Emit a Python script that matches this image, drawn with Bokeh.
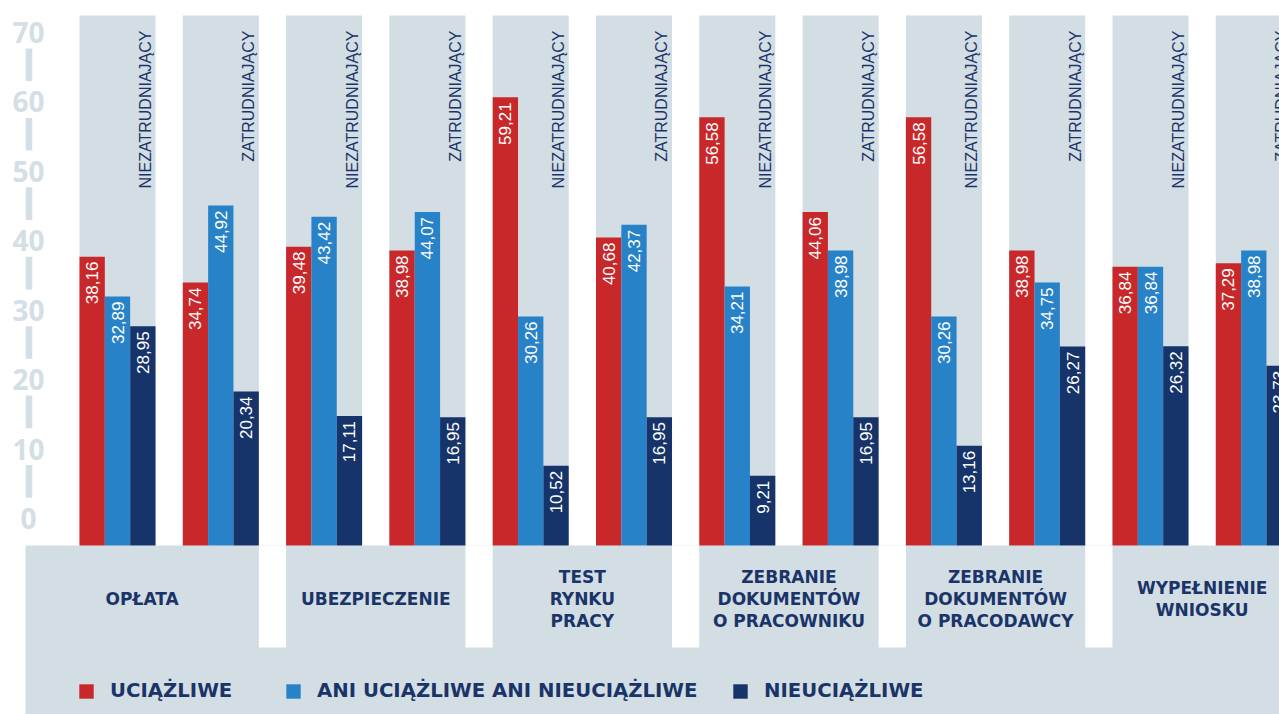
import numpy as np
from bokeh.plotting import figure
from bokeh.models import Range1d, ColumnDataSource, Legend, LegendItem
from bokeh.core.properties import value
from bokeh.embed import file_html
from bokeh.resources import INLINE

# ---------------- data ----------------
categories = ["OPŁATA", "UBEZPIECZENIE", "TEST\nRYNKU\nPRACY",
              "ZEBRANIE\nDOKUMENTÓW\nO PRACOWNIKU",
              "ZEBRANIE\nDOKUMENTÓW\nO PRACODAWCY",
              "WYPEŁNIENIE\nWNIOSKU"]
subgroups = ["NIEZATRUDNIAJĄCY", "ZATRUDNIAJĄCY"]
series = ["UCIĄŻLIWE", "ANI UCIĄŻLIWE ANI NIEUCIĄŻLIWE", "NIEUCIĄŻLIWE"]
uciazliwe = [38.16, 34.74, 39.48, 38.98, 59.21, 40.68, 56.58, 44.06, 56.58, 38.98, 36.84, 37.29]
ani = [32.89, 44.92, 43.42, 44.07, 30.26, 42.37, 34.21, 38.98, 30.26, 34.75, 36.84, 38.98]
nieuciazliwe = [28.95, 20.34, 17.11, 16.95, 10.52, 16.95, 9.21, 16.95, 13.16, 26.27, 26.32, 23.73]
y_ticks = [0, 10, 20, 30, 40, 50, 60, 70]

# ---------------- style ----------------
RED = "#c9282b"
BLUE = "#2882c8"
NAVY = "#16336a"
BAND = "#d2dde4"
AXGRAY = "#d3dee5"
TXT = "#1b3468"
colors = [RED, BLUE, NAVY]

W, H = 1279, 714
PITCH = 103.3
X0 = -117 / PITCH
X1 = X0 + W / PITCH
PXU = 7.567
BASE = 544.9
Y1 = BASE / PXU
Y0 = -(H - BASE) / PXU
HALF = 0.368
BW = 2 * HALF / 3
AX0, AXS = 518, 6.943

p = figure(width=W, height=H, x_range=Range1d(X0, X1), y_range=Range1d(Y0, Y1),
           output_backend="svg", toolbar_location=None, min_border=0,
           x_axis_location=None, y_axis_location=None, outline_line_color=None,
           background_fill_color="white", border_fill_color="white")
p.grid.visible = False
p.extra_x_ranges = {"px": Range1d(0, W)}
p.extra_y_ranges = {"py": Range1d(H, 0),
                    "axis": Range1d(-(H - AX0) / AXS, AX0 / AXS)}

n_sub = len(uciazliwe)
xs = np.arange(n_sub, dtype=float)

# bottom grey area
gray_left = -HALF - 54 / PITCH
p.quad(left=[gray_left], right=[X1 + 1], top=[0], bottom=[Y0 - 5],
       fill_color=BAND, line_color=None)
# white notches between category boxes
n_groups = len(categories)
notch_l = [2 * g + 1 + HALF for g in range(n_groups)]
notch_r = [2 * g + 2 - HALF for g in range(n_groups)]
p.quad(left=notch_l, right=notch_r, top=[0] * n_groups,
       bottom=[-(647 - BASE) / PXU] * n_groups, fill_color="white", line_color=None)

# bands behind subgroups
p.quad(left=xs - HALF, right=xs + HALF, bottom=0, top=(BASE - 15) / PXU,
       fill_color=BAND, line_color=None)

# bars
vals = [uciazliwe, ani, nieuciazliwe]
renderers = []
for k, v in enumerate(vals):
    src = ColumnDataSource(dict(
        x=xs + (k - 1) * BW, top=v,
        lab=[f"{a:.2f}".replace(".", ",") for a in v]))
    r = p.vbar(x="x", top="top", bottom=0, width=BW, source=src,
               fill_color=colors[k], line_color=None)
    renderers.append(r)
    p.text(x="x", y="top", text="lab", source=src, angle=np.pi / 2,
           text_align="right", text_baseline="middle", y_offset=5,
           text_color="white", text_font=value("Liberation Sans"),
           text_font_size="17px")

# subgroup labels
sub_lab = [subgroups[i % 2] for i in range(n_sub)]
p.text(x=xs + 0.271, y=[30] * n_sub, y_range_name="py", text=sub_lab,
       angle=np.pi / 2, text_align="right", text_baseline="middle",
       text_color=TXT, text_font=value("Liberation Sans"), text_font_size="16px")

# category labels
box_l = [gray_left] + [2 * g - HALF for g in range(1, n_groups)]
box_r = [2 * g + 1 + HALF for g in range(n_groups)]
cat_x = [(a + b) / 2 for a, b in zip(box_l, box_r)]
p.text(x=cat_x, y=[598] * n_groups, y_range_name="py", text=categories,
       text_align="center", text_baseline="middle", text_color=TXT,
       text_font=value("DejaVu Sans"), text_font_style="bold",
       text_font_size="17px", text_line_height=1.1)

# decorative y axis
p.text(x=[28] * len(y_ticks), y=y_ticks, x_range_name="px", y_range_name="axis",
       text=[str(t) for t in y_ticks], text_align="center", text_baseline="middle",
       text_color=AXGRAY, text_font=value("Open Sans"), text_font_style="bold",
       text_font_size="28px")
seg_v = y_ticks[:-1]
p.segment(x0=[28.5] * len(seg_v), x1=[28.5] * len(seg_v),
          y0=[t + 3.0 for t in seg_v], y1=[t + 7.7 for t in seg_v],
          x_range_name="px", y_range_name="axis",
          line_color=AXGRAY, line_width=6.5, line_cap="butt")

# legends
leg_x = [77, 284, 731]
for k in range(3):
    lg = Legend(items=[LegendItem(label=series[k], renderers=[renderers[k]])],
                location=(leg_x[k], 12), orientation="horizontal",
                glyph_width=18, glyph_height=18, label_standoff=15,
                padding=0, margin=0, spacing=0,
                background_fill_alpha=0, border_line_alpha=0,
                label_text_font="DejaVu Sans", label_text_font_style="bold",
                label_text_font_size="19.7px", label_text_color=TXT,
                label_text_baseline="middle")
    p.add_layout(lg, "center")

open("out.html", "w").write(file_html(p, INLINE))
